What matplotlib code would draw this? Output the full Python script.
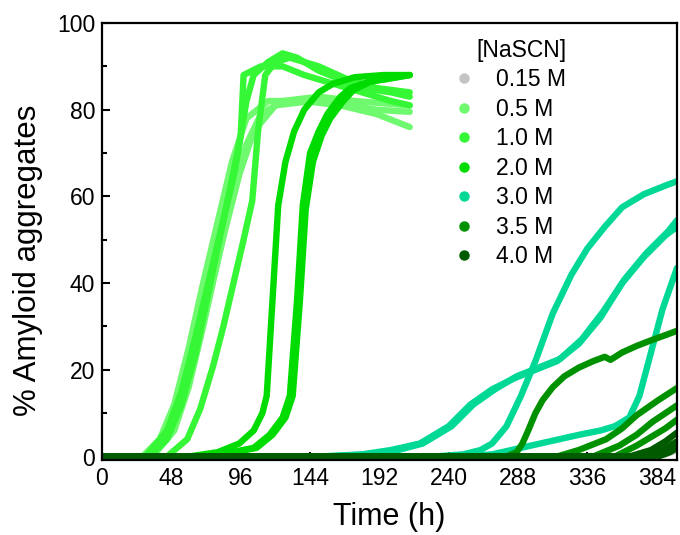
import matplotlib
matplotlib.use('Agg')
import matplotlib.pyplot as plt
from matplotlib.lines import Line2D
from matplotlib.ticker import MultipleLocator

plt.rcParams['font.family'] = ['Liberation Sans', 'DejaVu Sans']

# ---------------- data ----------------
labels = ['0.15 M', '0.5 M', '1.0 M', '2.0 M', '3.0 M', '3.5 M', '4.0 M']
colors = ['#c4c4c4', '#6ff96f', '#36f736', '#00dc00', '#00d896', '#009100', '#005a00']
x_ticks = [0, 48, 96, 144, 192, 240, 288, 336, 384]
y_ticks = [0, 20, 40, 60, 80, 100]

# 0.15 M
t_015_a = [0, 380, 390, 398]
v_015_a = [0, 0, 0.5, 1.5]

# 0.5 M
t_05_a = [0, 28, 40, 50, 60, 70, 80, 90, 100, 115, 140, 165, 190, 213]
v_05_a = [0, 0, 4, 12, 25, 40, 54, 68, 78, 82, 82, 81, 79, 76]
t_05_b = [0, 32, 45, 55, 65, 75, 85, 95, 105, 120, 145, 170, 190, 213]
v_05_b = [0, 0, 4, 12, 24, 38, 52, 65, 75, 81, 82, 81, 80, 79.5]
t_05_c = [0, 35, 50, 60, 70, 80, 90, 100, 110, 125, 150, 175, 213]
v_05_c = [0, 0, 6, 16, 30, 45, 60, 72, 79, 82, 83, 82, 81]

# 1.0 M
t_10_a = [0, 33, 45, 55, 65, 75, 85, 95, 100, 105, 115, 125, 135, 150, 165, 180, 200, 213]
v_10_a = [0, 0, 4, 12, 24, 40, 56, 72, 82, 88, 91, 93, 92, 89, 87, 85, 84, 83]
t_10_b = [0, 30, 45, 55, 65, 75, 85, 92, 96, 98, 110, 125, 140, 160, 180, 200, 213]
v_10_b = [0, 0, 6, 15, 28, 42, 56, 66, 74, 88, 90, 90, 88, 86, 84, 82, 81]
t_10_c = [0, 45, 59, 68, 77, 84, 91, 98, 104, 108, 113, 120, 130, 150, 170, 190, 213]
v_10_c = [0, 0, 4, 11, 21, 30, 40, 50, 59, 75, 88, 91, 92, 90, 87, 85, 84]

# 2.0 M
t_20_a = [0, 60, 80, 95, 105, 111, 114, 118, 122, 127, 133, 140, 150, 160, 175, 195, 213]
v_20_a = [0, 0, 1, 3, 6, 10, 14, 36, 58, 68, 75, 80, 84, 86, 87.5, 88, 88]
t_20_b = [0, 70, 90, 105, 116, 125, 130, 135, 139, 144, 150, 156, 165, 172, 185, 195, 213]
v_20_b = [0, 0, 1, 2, 5, 9, 14, 36, 58, 70, 75, 79, 83, 85, 86.5, 87, 88]
t_20_c = [0, 72, 92, 107, 118, 127, 132, 137, 141, 146, 152, 158, 167, 174, 186, 196, 213]
v_20_c = [0, 0, 1, 2, 5, 9, 14, 36, 57, 68, 74, 78, 82, 84.5, 86.5, 87, 88]

# 3.0 M
t_30_a = [0, 150, 180, 200, 220, 240, 255, 270, 285, 300, 315, 330, 345, 360, 375, 390, 398]
v_30_a = [0, 0, 0.5, 1.5, 3, 7, 12, 15.5, 18, 20, 22, 26, 32, 40, 46, 51, 53]
t_30_b = [0, 155, 185, 205, 222, 242, 257, 272, 287, 302, 317, 332, 347, 362, 377, 392, 398]
v_30_b = [0, 0, 0.5, 1.5, 3, 7, 12, 15.5, 18.5, 20.5, 22.5, 27, 33.5, 41, 47, 52, 54.5]
t_30_c = [0, 230, 250, 262, 270, 280, 290, 300, 312, 325, 336, 348, 360, 375, 390, 398]
v_30_c = [0, 0, 0.5, 1.5, 3, 7, 14, 22, 33, 42, 48, 53, 57.5, 60.5, 62.5, 63.5]
t_30_d = [0, 250, 270, 290, 310, 330, 345, 355, 365, 372, 380, 388, 398]
v_30_d = [0, 0, 0.5, 2, 3.5, 5, 6, 7, 9, 14, 24, 34, 43.5]

# 3.5 M
t_35_a = [0, 280, 287, 291, 295, 300, 305, 312, 320, 330, 340, 348, 352, 360, 370, 380, 390, 398]
v_35_a = [0, 0, 1, 3, 6, 10, 13, 16, 18.5, 20.5, 22, 23, 22.3, 24, 25.5, 26.8, 28, 29]
t_35_b = [0, 315, 330, 349, 360, 370, 385, 398]
v_35_b = [0, 0, 1.5, 4, 6.5, 9.5, 13, 15.8]
t_35_c = [0, 340, 358, 370, 381, 390, 398]
v_35_c = [0, 0, 2.5, 5, 8, 10, 11.8]
t_35_d = [0, 355, 370, 380, 390, 398]
v_35_d = [0, 0, 2.5, 4.5, 6.5, 8.5]

# 4.0 M
t_40_a = [0, 365, 380, 390, 398]
v_40_a = [0, 0, 1.5, 3.5, 5.5]
t_40_b = [0, 375, 388, 398]
v_40_b = [0, 0, 1.5, 3.5]
t_40_c = [0, 385, 393, 398]
v_40_c = [0, 0, 1, 2]

series = [
    [(t_015_a, v_015_a)],
    [(t_05_a, v_05_a), (t_05_b, v_05_b), (t_05_c, v_05_c)],
    [(t_10_a, v_10_a), (t_10_b, v_10_b), (t_10_c, v_10_c)],
    [(t_20_a, v_20_a), (t_20_b, v_20_b), (t_20_c, v_20_c)],
    [(t_30_a, v_30_a), (t_30_b, v_30_b), (t_30_c, v_30_c), (t_30_d, v_30_d)],
    [(t_35_a, v_35_a), (t_35_b, v_35_b), (t_35_c, v_35_c), (t_35_d, v_35_d)],
    [(t_40_a, v_40_a), (t_40_b, v_40_b), (t_40_c, v_40_c)],
]

# ---------------- figure ----------------
fig = plt.figure(figsize=(6.8, 5.35), dpi=100)
ax = fig.add_axes([102 / 680, 1 - 460 / 535, 575 / 680, 437 / 535])

for z, (reps, col) in enumerate(zip(series, colors)):
    for t, v in reps:
        ax.plot(t, v, color=col, lw=4.6, solid_capstyle='round',
                solid_joinstyle='round', zorder=2 + z)

ax.set_xlim(0, 398)
ax.set_ylim(-0.8, 100)
ax.set_xticks(x_ticks)
ax.set_yticks(y_ticks)
ax.yaxis.set_minor_locator(MultipleLocator(10))
ax.tick_params(which='both', direction='in', width=1.5, labelsize=16.5,
               pad=5, colors='black')
ax.tick_params(which='major', length=6)
ax.tick_params(which='minor', length=3.5)
for s in ax.spines.values():
    s.set_linewidth(1.6)
    s.set_zorder(20)

ax.set_xlabel('Time (h)', fontsize=22, labelpad=9)
ax.set_ylabel('% Amyloid aggregates', fontsize=22.5)
ax.yaxis.set_label_coords(-0.102, 0.458)

handles = [Line2D([], [], marker='o', ls='', color=c, markersize=6.5) for c in colors]
leg = ax.legend(handles, labels, title='[NaSCN]', loc='upper left',
                bbox_to_anchor=(0.582, 1.0), frameon=False, fontsize=16.5,
                title_fontsize=16.5, handlelength=1.0, handletextpad=0.9,
                labelspacing=0.28, borderaxespad=0.3, alignment='right')

fig.savefig('out.png', dpi=100)
